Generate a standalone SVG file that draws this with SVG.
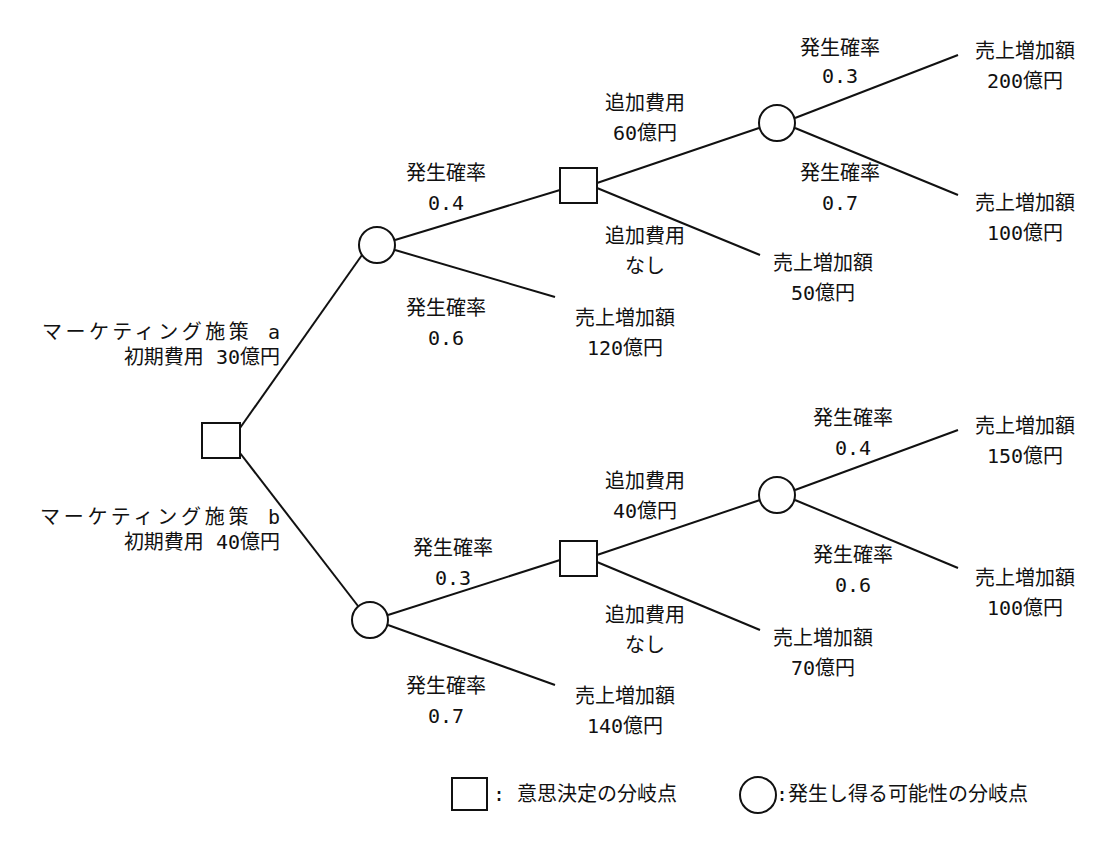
<svg xmlns="http://www.w3.org/2000/svg" width="1120" height="842" viewBox="0 0 1120 842">
<style>
text{font-family:"DejaVu Sans Mono","Noto Sans CJK JP",monospace;font-size:20px;fill:#111;text-anchor:middle}
.r{text-anchor:end}
.s{text-anchor:start}
.n{fill:#fff;stroke:#111;stroke-width:2}
.c line{stroke:#111;stroke-width:2}
</style>
<rect width="1120" height="842" fill="#fff"/>
<g class="c" id="connectors">
<line x1="240" y1="428" x2="362" y2="255"/>
<line x1="395" y1="240" x2="560" y2="190"/>
<line x1="395" y1="250" x2="555" y2="297"/>
<line x1="597" y1="183" x2="759" y2="128"/>
<line x1="597" y1="188" x2="760" y2="255"/>
<line x1="795" y1="118" x2="958" y2="55"/>
<line x1="795" y1="128" x2="958" y2="195"/>
<line x1="240" y1="453" x2="358" y2="606"/>
<line x1="388" y1="615" x2="560" y2="560"/>
<line x1="388" y1="625" x2="555" y2="685"/>
<line x1="597" y1="555" x2="760" y2="500"/>
<line x1="597" y1="562" x2="760" y2="630"/>
<line x1="795" y1="490" x2="958" y2="430"/>
<line x1="795" y1="500" x2="958" y2="568"/>
</g>
<g id="root"><rect class="n" x="202" y="423" width="38" height="35"/>
<text class="r" x="280" y="339" textLength="238">マーケティング施策 a</text><text class="r" x="280" y="364">初期費用 30億円</text>
<text class="r" x="280" y="524" textLength="240">マーケティング施策 b</text><text class="r" x="280" y="549">初期費用 40億円</text></g>
<g id="c1"><circle class="n" cx="377" cy="245" r="18"/>
<text x="446" y="180">発生確率</text><text x="446" y="210">0.4</text>
<text x="446" y="315">発生確率</text><text x="446" y="345">0.6</text></g>
<g id="e1"><text x="625" y="325">売上増加額</text><text x="625" y="355">120億円</text></g>
<g id="d1"><rect class="n" x="560" y="168" width="37" height="35"/>
<text x="645" y="110">追加費用</text><text x="645" y="140">60億円</text>
<text x="645" y="243">追加費用</text><text x="645" y="273">なし</text></g>
<g id="e2"><text x="823" y="270">売上増加額</text><text x="823" y="300">50億円</text></g>
<g id="c2"><circle class="n" cx="777" cy="123" r="18"/>
<text x="840" y="55">発生確率</text><text x="840" y="83">0.3</text>
<text x="840" y="180">発生確率</text><text x="840" y="210">0.7</text></g>
<g id="e3"><text x="1025" y="58">売上増加額</text><text x="1025" y="88">200億円</text></g>
<g id="e4"><text x="1025" y="210">売上増加額</text><text x="1025" y="240">100億円</text></g>
<g id="c3"><circle class="n" cx="370" cy="620" r="18"/>
<text x="453" y="555">発生確率</text><text x="453" y="585">0.3</text>
<text x="446" y="693">発生確率</text><text x="446" y="723">0.7</text></g>
<g id="e5"><text x="625" y="703">売上増加額</text><text x="625" y="733">140億円</text></g>
<g id="d2"><rect class="n" x="560" y="541" width="37" height="35"/>
<text x="645" y="488">追加費用</text><text x="645" y="518">40億円</text>
<text x="645" y="622">追加費用</text><text x="645" y="652">なし</text></g>
<g id="e6"><text x="823" y="645">売上増加額</text><text x="823" y="675">70億円</text></g>
<g id="c4"><circle class="n" cx="777" cy="495" r="18"/>
<text x="853" y="425">発生確率</text><text x="853" y="455">0.4</text>
<text x="853" y="562">発生確率</text><text x="853" y="592">0.6</text></g>
<g id="e7"><text x="1025" y="433">売上増加額</text><text x="1025" y="463">150億円</text></g>
<g id="e8"><text x="1025" y="585">売上増加額</text><text x="1025" y="615">100億円</text></g>
<g id="legend"><rect class="n" x="452" y="778" width="35" height="32"/>
<text class="s" x="493" y="801">: 意思決定の分岐点</text>
<circle class="n" cx="758" cy="795" r="18"/>
<text class="s" x="776" y="801">:発生し得る可能性の分岐点</text></g>
</svg>
